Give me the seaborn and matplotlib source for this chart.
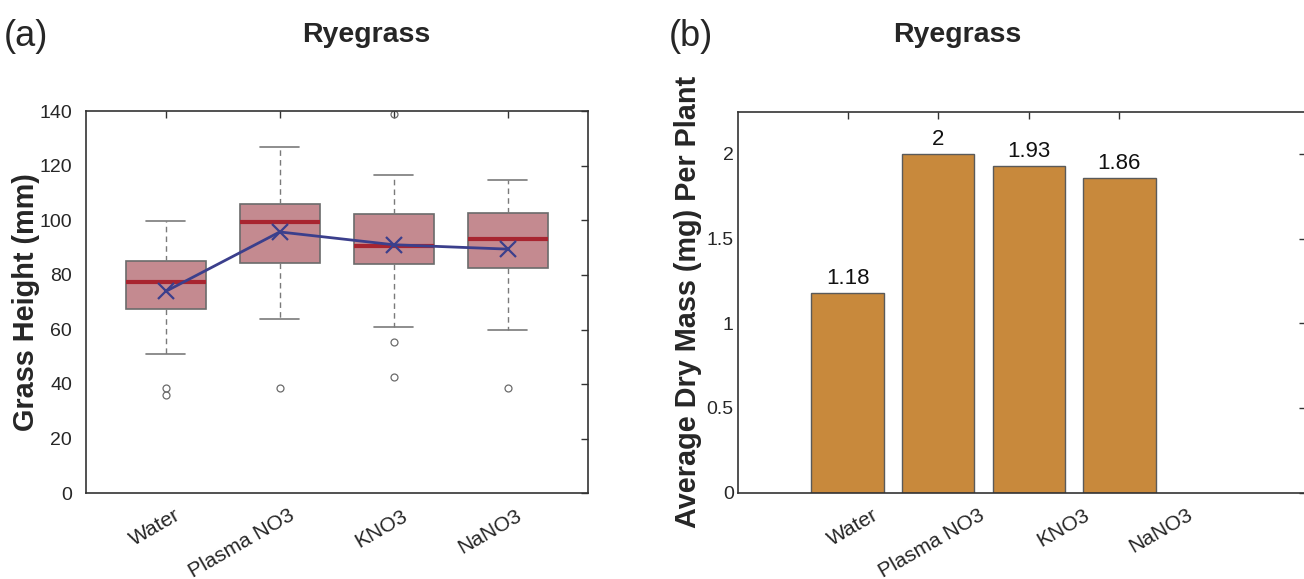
import matplotlib
matplotlib.use("Agg")
import matplotlib.pyplot as plt
import matplotlib.transforms as mtransforms
import numpy as np
import seaborn as sns

groups = ["Water", "Plasma NO3", "KNO3", "NaNO3"]

# box statistics, mm
whis_lo = [51.0, 63.7, 60.8, 59.7]
q1 = [67.7, 84.3, 83.9, 82.5]
median = [77.3, 99.4, 90.5, 93.1]
q3 = [85.0, 106.1, 102.5, 102.8]
whis_hi = [99.7, 126.9, 116.8, 114.8]
outliers = [[38.6, 36.0], [38.4], [55.5, 42.5, 139.0], [38.4]]
means = [74.0, 95.8, 91.1, 89.5]

# panel (b), mg
dry_mass = [1.18, 2.00, 1.93, 1.86]
mass_labels = ["1.18", "2", "1.93", "1.86"]

sns.set_style("white")
plt.rcParams["font.family"] = ["Liberation Sans", "DejaVu Sans"]

W, H = 1304, 579
fig = plt.figure(figsize=(W / 100, H / 100), dpi=100)


def px_axes(left, top, right, bottom):
    return fig.add_axes([left / W, 1 - bottom / H, (right - left) / W, (bottom - top) / H])


ax1 = px_axes(86, 111.5, 588, 493)
ax2 = px_axes(738, 111.5, 1306, 492.5)

edge = "#6b6b6b"
pos = np.arange(len(groups))

stats = []
for i in range(len(groups)):
    stats.append(dict(whislo=whis_lo[i], q1=q1[i], med=median[i], q3=q3[i],
                      whishi=whis_hi[i], fliers=outliers[i]))
ax1.bxp(stats, positions=pos, widths=0.7, patch_artist=True, showfliers=True,
        boxprops=dict(facecolor="#c48a90", edgecolor=edge, linewidth=1.2),
        medianprops=dict(color="#a82530", linewidth=3),
        whiskerprops=dict(color="#7a7a7a", linewidth=1, linestyle=(0, (4, 3))),
        capprops=dict(color="#7a7a7a", linewidth=1.2),
        capwidths=0.34,
        flierprops=dict(marker="o", markerfacecolor="none", markeredgecolor="#6b6b6b",
                        markersize=5, markeredgewidth=0.9))
sns.lineplot(x=pos, y=means, ax=ax1, color="#3b3f8c", linewidth=2, marker="x",
             markersize=12, markeredgewidth=1.6, markeredgecolor="#3b3f8c", zorder=5)
ax1.set_xlim(-0.7, 3.705)
ax1.set_ylim(0, 140)
ax1.set_yticks(np.arange(0, 141, 20))
ax1.set_ylabel("Grass Height (mm)", fontsize=20.8, fontweight="bold")
ax1.yaxis.set_label_coords(-0.092, 0.5)

sns.barplot(x=pos, y=dry_mass, ax=ax2, width=0.8, color="#c8893c", saturation=1,
            edgecolor="#5a5a5a", linewidth=1, native_scale=True)
for i, v in enumerate(dry_mass):
    ax2.text(pos[i], v + 0.02, mass_labels[i], ha="center", va="bottom", fontsize=16,
             color="#111111")
ax2.set_xlim(-1.21, 5.06)
ax2.set_ylim(0, 2.25)
ax2.set_yticks([0, 0.5, 1, 1.5, 2])
ax2.set_yticklabels(["0", "0.5", "1", "1.5", "2"])
ax2.set_ylabel("Average Dry Mass (mg) Per Plant", fontsize=20.8, fontweight="bold")
ax2.yaxis.set_label_coords(-0.0635, 0.5)

# category labels drawn as text, rightward offsets (px) as in the original
label_dx = {ax1: [8, 8, 8, 8], ax2: [24, 40, 54, 67]}
for ax in (ax1, ax2):
    ax.set_xticks(pos)
    ax.set_xticklabels([])
    for i, name in enumerate(groups):
        off = mtransforms.ScaledTranslation(label_dx[ax][i] / 100, -13 / 100,
                                            fig.dpi_scale_trans)
        ax.text(pos[i], 0, name, transform=ax.get_xaxis_transform() + off,
                rotation=30, rotation_mode="anchor", ha="right", va="top",
                fontsize=15, color="#262626", clip_on=False)
    ax.tick_params(axis="y", labelsize=14)
    ax.tick_params(direction="in", top=True, right=True, length=5, width=1,
                   color="#333333", labelcolor="#262626")
    for s in ax.spines.values():
        s.set_color("#333333")
        s.set_linewidth(1.2)
    ax.grid(False)
    ax.set_xlabel("")
ax1.tick_params(axis="y", pad=10)
ax2.tick_params(axis="y", pad=3)

fig.text(366 / W, 1 - 42 / H, "Ryegrass", ha="center", va="baseline", fontsize=20.5,
         fontweight="bold")
fig.text(957 / W, 1 - 42 / H, "Ryegrass", ha="center", va="baseline", fontsize=20.5,
         fontweight="bold")
fig.text(4 / W, 1 - 36 / H, "(a)", ha="left", va="center", fontsize=26)
fig.text(669 / W, 1 - 36 / H, "(b)", ha="left", va="center", fontsize=26)

fig.savefig("out.png", dpi=100)
